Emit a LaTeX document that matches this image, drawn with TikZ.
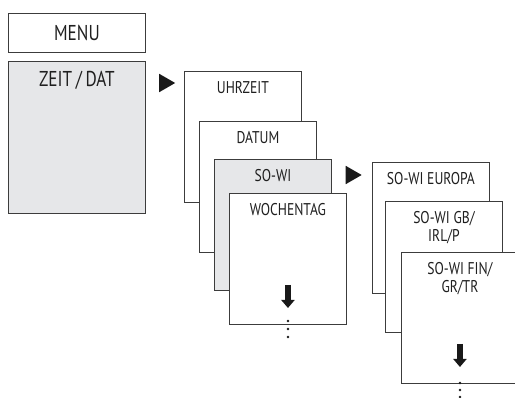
\documentclass[tikz,border=0pt]{standalone}
\usepackage{fontspec}
\setmainfont{PT Sans}[FakeStretch=0.8]
\usetikzlibrary{shapes.geometric,arrows.meta}

\definecolor{cardline}{HTML}{3C3C3C}
\definecolor{cardgray}{HTML}{E6E7E9}

\tikzset{
    card/.style={draw=cardline,line width=0.9pt,fill=white,anchor=north west,
        minimum width=117pt,minimum height=131pt,inner sep=0pt},
    graycard/.style={card,fill=cardgray},
    cardtext/.style={anchor=north,inner sep=0pt,font=\fontsize{17pt}{18pt}\selectfont,
        text=black!88,align=center},
    bigtext/.style={cardtext,font=\fontsize{21.5pt}{22pt}\selectfont},
    nextmark/.style={isosceles triangle,isosceles triangle apex angle=60,fill=black!90,
        inner sep=0pt,minimum height=16pt,minimum width=18pt,anchor=center},
    downarrow/.style={line width=6pt,draw=black!90,-{Triangle[length=8pt,width=13pt]}},
    morebullet/.style={circle,fill=black!90,inner sep=0pt,minimum size=2.8pt},
}

\begin{document}
\begin{tikzpicture}[x=1pt,y=-1pt]
    \useasboundingbox (0,0) rectangle (515,398);
    \pgfmathsetmacro{\textdrop}{10.5}
    % menu column
    \node[card,minimum width=137pt,minimum height=39pt] (menu) at (8,13) {};
    \node[bigtext,anchor=center] (menutext) at (menu.center) {MENU};
    \node[graycard,minimum width=137pt,minimum height=152pt] (zeit) at (8,61) {};
    \node[bigtext] (zeittext) at ([yshift=-9.5pt]zeit.north) {ZEIT\,/\,DAT};
    \node[nextmark] (mark1) at (164.5,83) {};
    % second column
    \node[card] (uhrzeit) at (184,71) {};
    \node[cardtext] (uhrzeittext) at ([yshift=-\textdrop pt]uhrzeit.north) {UHRZEIT};
    \node[card] (datum) at (199,121) {};
    \node[cardtext] (datumtext) at ([yshift=-\textdrop pt]datum.north) {DATUM};
    \node[graycard] (sowi) at (214,159) {};
    \node[cardtext] (sowitext) at ([yshift=-\textdrop pt]sowi.north) {SO-WI};
    \node[card] (wochentag) at (229,193) {};
    \node[cardtext] (wochentagtext) at ([yshift=-\textdrop pt]wochentag.north) {WOCHENTAG};
    \coordinate (w1) at ([yshift=-92pt]wochentag.north);
    \coordinate (w2) at ([yshift=-115pt]wochentag.north);
    \draw[downarrow] (w1) -- (w2);
    \foreach \i in {0,1,2}
        \node[morebullet] (wdot\i) at ([yshift={-(128+8*\i)*1pt}]wochentag.north) {};
    \node[nextmark] (mark2) at (351,175) {};
    % third column
    \node[card] (europa) at (372,162) {};
    \node[cardtext] (europatext) at ([yshift=-\textdrop pt]europa.north) {SO-WI EUROPA};
    \node[card] (gb) at (385,201) {};
    \node[cardtext] (gbtext) at ([yshift=-\textdrop pt]gb.north) {SO-WI GB/\\IRL/P};
    \node[card] (fin) at (401,252) {};
    \node[cardtext] (fintext) at ([yshift=-\textdrop pt]fin.north) {SO-WI FIN/\\GR/TR};
    \coordinate (f1) at ([yshift=-92pt]fin.north);
    \coordinate (f2) at ([yshift=-115pt]fin.north);
    \draw[downarrow] (f1) -- (f2);
    \foreach \i in {0,1,2}
        \node[morebullet] (fdot\i) at ([yshift={-(131+7*\i)*1pt}]fin.north) {};
\end{tikzpicture}
\end{document}
